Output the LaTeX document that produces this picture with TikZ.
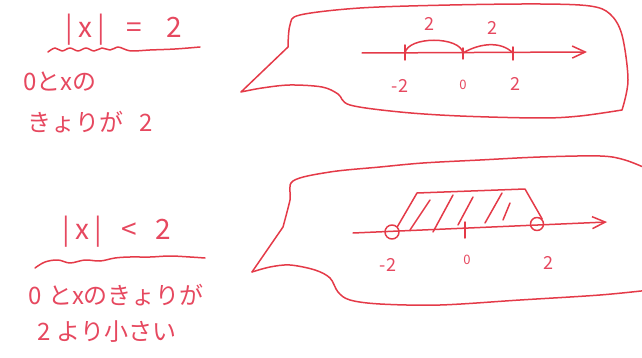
\documentclass[tikz,border=0pt]{standalone}
\usepackage{fontspec}
\usetikzlibrary{arrows.meta}
\newfontfamily\jp{Noto Sans CJK JP}
\definecolor{linered}{RGB}{228,58,72}
\definecolor{textred}{RGB}{230,72,95}
\begin{document}
\begin{tikzpicture}[x=1pt,y=-1pt, line width=1.5pt, line cap=round, line join=round,
  ink/.style={draw=linered},
  lbl/.style={text=textred, font=\jp\fontsize{24}{28}\selectfont, inner sep=0pt},
  eqn/.style={text=textred, font=\jp\fontsize{28}{32}\selectfont, inner sep=0pt},
  num/.style={text=textred, font=\jp\fontsize{18}{20}\selectfont, inner sep=0pt},
  zero/.style={text=textred, font=\jp\fontsize{13}{15}\selectfont, inner sep=0pt},
  tip/.style={-{Straight Barb[length=13pt,width=12pt]}}]
\useasboundingbox (0,0) rectangle (642,358);
\clip (0,0) rectangle (642,358);

% ---------- left texts ----------
\node[eqn] (eq1) at (124,30) {|\hspace{5pt}x\hspace{5pt}|\hspace{22pt}=\hspace{24pt}2};
\draw[ink] plot[smooth, tension=0.6] coordinates {(48,52) (55,48) (62,51) (70,48) (78,51) (86,48) (94,51) (102,48) (110,50) (118,47) (124,49) (132,51) (150,50) (175,49) (200,47)};
\node[lbl] (d1a) at (60,82) {0とxの};
\node[lbl] (d1b) at (90,122) {きょりが\hspace{16pt}2};

\node[eqn] (eq2) at (117,232) {|\hspace{5pt}x\hspace{5pt}|\hspace{20pt}<\hspace{18pt}2};
\draw[ink] plot[smooth, tension=0.6] coordinates {(35,268) (45,262) (58,260) (70,263) (85,260) (100,261) (115,258) (130,257) (150,257) (170,256) (190,257) (205,258)};
\node[lbl] (d2a) at (116,295) {0\hspace{6pt}とxのきょりが};
\node[lbl] (d2b) at (107,332) {2\hspace{6pt}より小さい};

% ---------- bubble 1 ----------
\draw[ink] (241,92) -- (288,47) -- plot[smooth, tension=0.55] coordinates {(288,47) (290,25) (300,15) (360,8) (450,5) (540,4) (590,6) (610,14) (622,35) (628,80) (622,110)}
  -- plot[smooth, tension=0.55] coordinates {(622,110) (580,116) (540,118) (460,116) (400,112) (350,105) (338,94) (322,87) (290,85) (262,88) (241,92)};

\coordinate (a1s) at (362,53);
\coordinate (a1e) at (587,52);
\coordinate (m2a) at (405,53);
\coordinate (z0a) at (463,53);
\coordinate (p2a) at (513,53);
\draw[ink, tip] (a1s) -- (a1e);
\draw[ink] ([yshift=-7]m2a) -- ([yshift=8]m2a);
\draw[ink] ([yshift=-6]z0a) -- ([yshift=5]z0a);
\draw[ink] ([yshift=-7]p2a) -- ([yshift=6]p2a);
\draw[ink] (m2a) .. controls (408,36) and (460,36) .. (z0a);
\draw[ink] (z0a) .. controls (478,44) and (500,40) .. (p2a);
\node[num] (t1a) at (429,24) {2};
\node[num] (t1b) at (492,28) {2};
\node[num] (n1a) at (400,86) {-2};
\node[zero] (n1b) at (463,85) {0};
\node[num] (n1c) at (515,84) {2};

% ---------- bubble 2 ----------
\draw[ink] (252,272) -- (283,227) -- plot[smooth, tension=0.55] coordinates {(283,227) (290,200) (293,181) (330,172) (380,167) (423,163) (480,160) (540,157) (600,156) (625,160) (650,170)};
\draw[ink] plot[smooth, tension=0.55] coordinates {(252,272) (270,267) (290,265) (315,270) (330,278) (338,292) (350,300) (380,304) (440,305) (520,300) (600,295) (650,290)};

\coordinate (a2s) at (353,233);
\coordinate (a2e) at (607,222);
\draw[ink, tip] (a2s) -- (a2e);
\node[draw=linered, circle, minimum size=14pt, inner sep=0pt, line width=1.5pt] (c1) at (392,232) {};
\node[draw=linered, circle, minimum size=13pt, inner sep=0pt, line width=1.5pt] (c2) at (537,224) {};
\coordinate (z0b) at (465,231);
\draw[ink] ([yshift=-7]z0b) -- ([yshift=9]z0b);
\draw[ink] (c1.north east) -- (417,193) -- (525,189) -- (c2.north east);
\draw[ink] (410,230) -- (430,200);
\draw[ink] (433,232) -- (453,195);
\draw[ink] (458,225) -- (473,197);
\draw[ink] (485,223) -- (502,193);
\draw[ink] (503,220) -- (510,203);
\node[num] (n2a) at (388,265) {-2};
\node[zero] (n2b) at (467,260) {0};
\node[num] (n2c) at (548,263) {2};
\end{tikzpicture}
\end{document}
